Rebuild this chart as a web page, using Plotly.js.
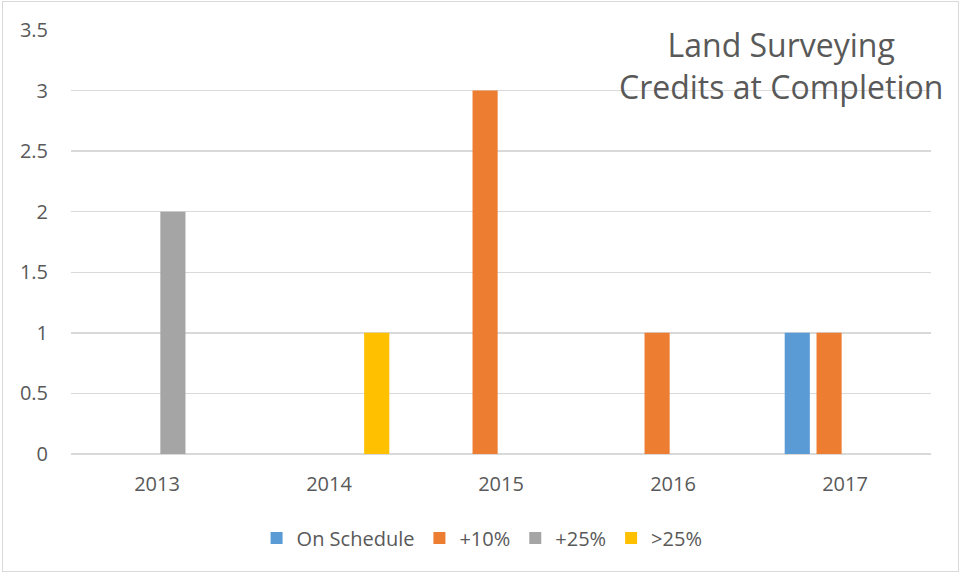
<!DOCTYPE html>
<html>
<head>
<meta charset="utf-8">
<script src="https://cdn.plot.ly/plotly-3.0.1.min.js"></script>
<style>
  html, body { margin: 0; padding: 0; background: #fff; }
  #wrap { position: relative; width: 961px; height: 575px; }
  #chart { width: 961px; height: 575px; }
  #frame { position: absolute; left: 2px; top: 1px; width: 957px; height: 571px;
           border: 1px solid #D9D9D9; box-sizing: border-box; pointer-events: none; }
</style>
</head>
<body>
<div id="wrap">
  <div id="chart"></div>
  <div id="frame"></div>
</div>
<script>
const years = ['2013', '2014', '2015', '2016', '2017'];
const seriesNames = ['On Schedule', '+10%', '+25%', '>25%'];
const onSchedule = [0, 0, 0, 0, 1];
const plus10 = [0, 0, 3, 1, 1];
const plus25 = [2, 0, 0, 0, 0];
const over25 = [0, 1, 0, 0, 0];
const colors = ['#5B9BD5', '#ED7D31', '#A5A5A5', '#FFC000'];
const yTicks = [0, 0.5, 1, 1.5, 2, 2.5, 3, 3.5];
const titleLines = ['Land Surveying', 'Credits at Completion'];

const values = [onSchedule, plus10, plus25, over25];
const data = values.map((v, i) => ({
  type: 'bar',
  name: seriesNames[i],
  x: years,
  y: v,
  marker: { color: colors[i], line: { width: 0 } },
  hoverinfo: 'x+y+name'
}));

const FONT = 'Open Sans, Noto Sans, sans-serif';
const layout = {
  width: 961,
  height: 575,
  margin: { l: 71, r: 30, t: 30, b: 121 },
  paper_bgcolor: '#ffffff',
  plot_bgcolor: '#ffffff',
  barmode: 'group',
  bargap: 0.26,
  bargroupgap: 0.21,
  showlegend: true,
  font: { family: FONT, color: '#595959' },
  xaxis: {
    type: 'category',
    tickfont: { family: FONT, size: 20, color: '#595959' },
    showgrid: false,
    showline: false,
    zeroline: false,
    ticks: 'outside',
    ticklen: 12,
    tickcolor: 'rgba(0,0,0,0)'
  },
  yaxis: {
    range: [0, 3.5],
    tickvals: yTicks,
    ticktext: yTicks.map(String),
    tickfont: { family: FONT, size: 20, color: '#595959' },
    showgrid: true,
    gridcolor: '#D9D9D9',
    gridwidth: 1.3,
    zeroline: true,
    zerolinecolor: '#D9D9D9',
    zerolinewidth: 1.3,
    showline: false,
    ticks: 'outside',
    ticklen: 18,
    tickcolor: 'rgba(0,0,0,0)'
  },
  legend: {
    orientation: 'h',
    x: 0.478,
    xanchor: 'center',
    y: -0.198,
    yanchor: 'middle',
    font: { family: FONT, size: 20, color: '#595959' },
    itemwidth: 30,
    traceorder: 'normal'
  },
  annotations: [{
    xref: 'paper', yref: 'paper',
    x: 0.826, y: 1.022,
    xanchor: 'center', yanchor: 'top',
    showarrow: false,
    align: 'center',
    text: titleLines.join('<br>'),
    font: { family: FONT, size: 32, color: '#595959' }
  }]
};

Plotly.newPlot('chart', data, layout, { displayModeBar: false, staticPlot: true });
</script>
</body>
</html>
